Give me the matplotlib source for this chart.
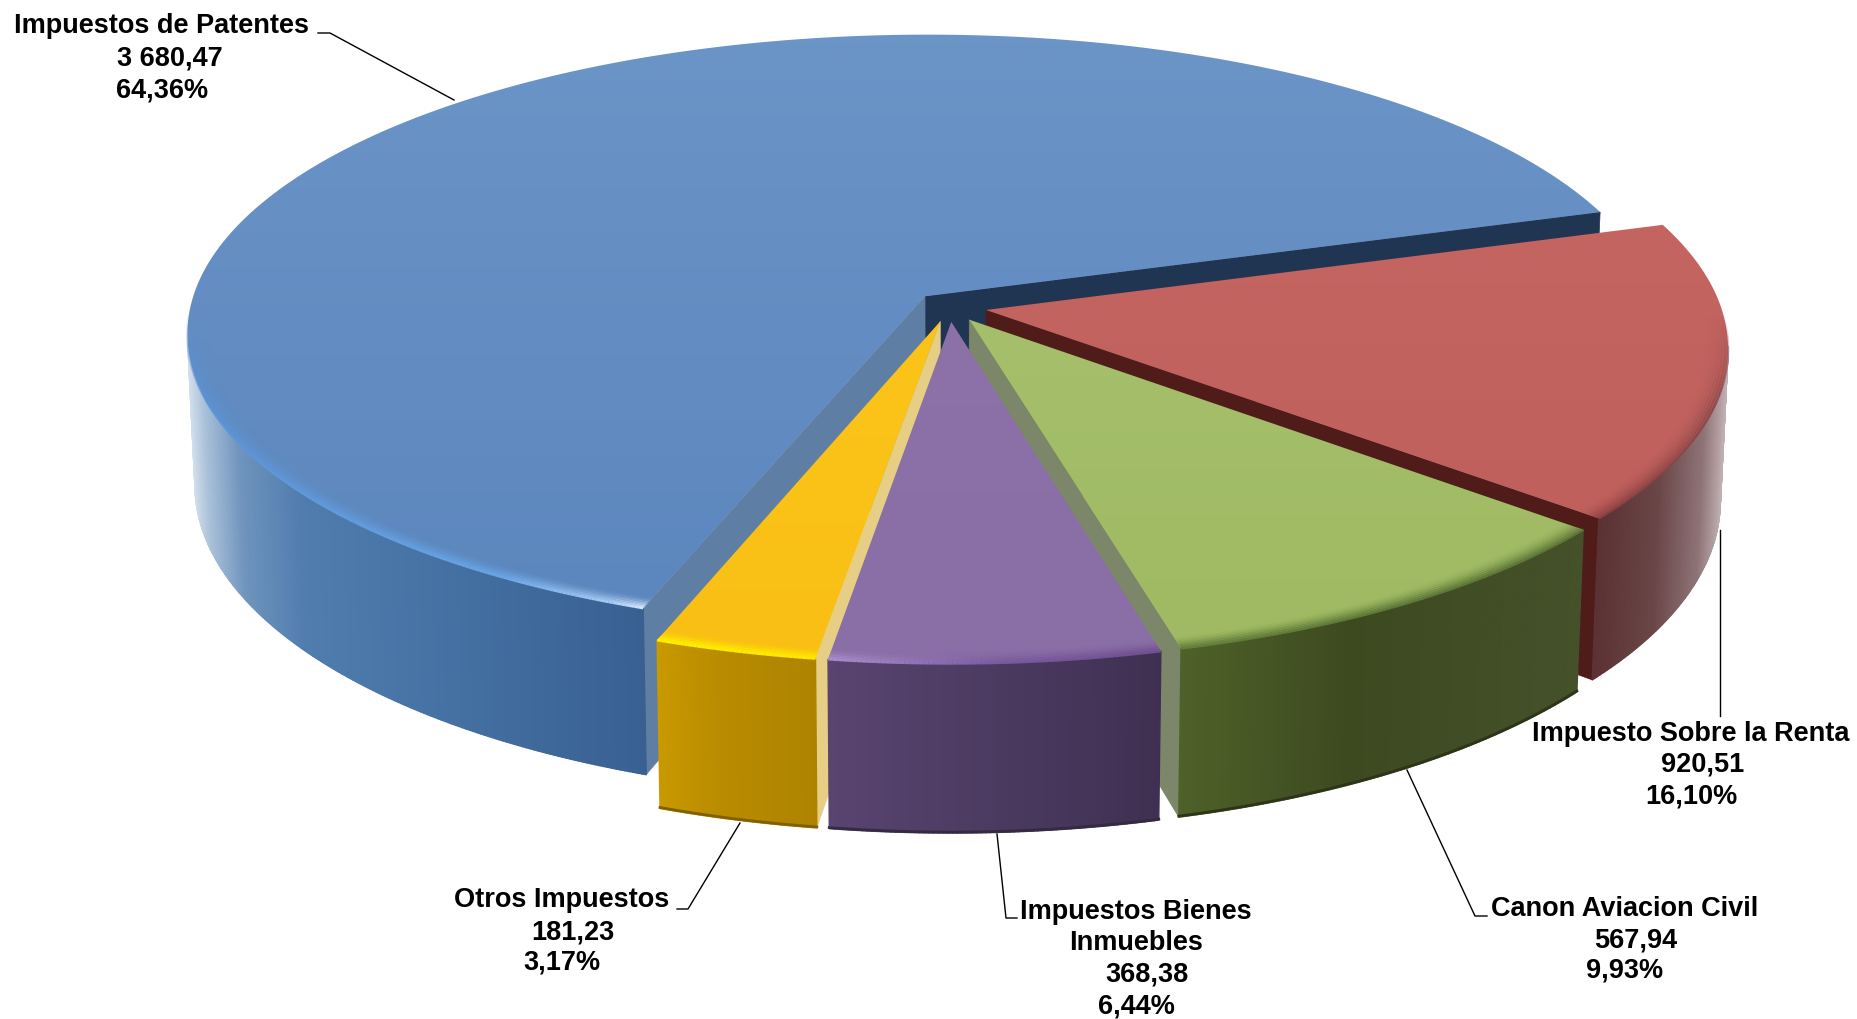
# -*- coding: utf-8 -*-
# Pastel 3D de impuestos, proyeccion en perspectiva hecha a mano
import numpy as np
import matplotlib
matplotlib.use('Agg')
import matplotlib.pyplot as plt
from matplotlib.collections import LineCollection, PolyCollection
from matplotlib.colors import to_rgb
from matplotlib.patches import Polygon

# datos
categorias = ['Impuestos de Patentes', 'Otros Impuestos', 'Impuestos Bienes Inmuebles',
              'Canon Aviacion Civil', 'Impuesto Sobre la Renta']
valores = [3680.47, 181.23, 368.38, 567.94, 920.51]

# geometria en pixeles de la imagen
W, H = 1858, 1019
ox, oy = 950, 307      # centro del pastel sin separar
A, B, P = 735, 296, 0.122
SEP = 0.05
START = 17.3
AJUSTE = 1.6           # pequena correccion angular de la perspectiva

def proy(r, th, sep_th):
    th = np.radians(th + AJUSTE*np.sin(np.radians(np.asarray(th) - START)/2)**2)
    u = r*np.cos(th) + SEP*np.cos(np.radians(sep_th))
    v = r*np.sin(th) + SEP*np.sin(np.radians(sep_th))
    w = 1 + P*v
    return ox + A*u/w, oy - B*v/w

def abajo(x, y):
    # cara inferior: algo mas estrecha, y mas profunda hacia el frente
    dy = y - oy
    return ox + (x - ox)*0.99, y + 150 + 0.055*dy

def mezcla(c1, c2, t):
    return tuple(np.array(to_rgb(c1))*(1 - t) + np.array(to_rgb(c2))*t)

def color_x(x, stops):
    xs = [s[0] for s in stops]
    rgb = np.array([to_rgb(s[1]) for s in stops])
    return tuple(np.interp(x, xs, rgb[:, i]) for i in range(3))

# estilos de cada porcion, en el mismo orden que categorias
tapa = [('#6b94c7', '#5c87be'), ('#fcc419', '#f9bf14'), ('#8c72a8', '#8a6ea6'),
        ('#a5bf6b', '#9fba62'), ('#c46562', '#c0605c')]
# solo se pintan las caras del corte que se ven
cara_ini = ['#1f3552', None, None, '#7c876a', '#4f1c1a']
cara_fin = ['#5f7ea3', '#e6cf85', None, None, None]
pared = [
    [(188, '#d5e0ec'), (205, '#a9c0d9'), (240, '#6f94bd'), (300, '#507dae'), (450, '#4470a3'), (655, '#385f90')],
    [(655, '#c99a00'), (720, '#b98b00'), (830, '#ad8200')],
    [(830, '#594470'), (1000, '#4b3a60'), (1165, '#3f3052')],
    [(1175, '#4f6229'), (1350, '#3d4a20'), (1590, '#45512a')],
    [(1585, '#582c2e'), (1660, '#6a4647'), (1705, '#8f7477'), (1730, '#c4b4b6')],
]
borde = [
    [(188, '#5b93d6'), (500, '#6aa5e6'), (610, '#a8cdf3'), (650, '#e4f0ff')],
    [(655, '#fff000'), (830, '#ffe800')],
    [(830, '#a98ccb'), (1000, '#7a5a9c'), (1165, '#6f4f90')],
    [(1175, '#64803a'), (1590, '#5c7636')],
    [(1585, '#8c3f3f'), (1730, '#8a4a4a')],
]
orden = [0, 4, 3, 1, 2]   # de atras hacia adelante

# etiquetas, cada linea con su centro
textos = [
    ('Impuestos de Patentes', 14, 26, 'left'), ('3 680,47', 170, 58, 'center'), ('64,36%', 162, 90, 'center'),
    ('Otros Impuestos', 562, 900, 'center'), ('181,23', 573, 932, 'center'), ('3,17%', 562, 962, 'center'),
    ('Impuestos Bienes', 1136, 912, 'center'), ('Inmuebles', 1136, 943, 'center'),
    ('368,38', 1147, 974, 'center'), ('6,44%', 1136, 1006, 'center'),
    ('Canon Aviacion Civil', 1625, 909, 'center'), ('567,94', 1636, 940, 'center'), ('9,93%', 1625, 971, 'center'),
    ('Impuesto Sobre la Renta', 1691, 734, 'center'), ('920,51', 1703, 765, 'center'), ('16,10%', 1691, 796, 'center'),
]
guias = [
    [(318, 33), (330, 33), (454, 100)],
    [(740, 823), (688, 909), (677, 909)],
    [(997, 834), (1006, 918), (1017, 918)],
    [(1407, 770), (1475, 916), (1487, 916)],
    [(1720, 530), (1720, 716)],
]

fig = plt.figure(figsize=(W/100, H/100), dpi=100, facecolor='white')
ax = fig.add_axes([0, 0, 1, 1])
ax.set_xlim(0, W)
ax.set_ylim(H, 0)
ax.axis('off')

total = sum(valores)
cortes = START + np.concatenate([[0], np.cumsum(valores)])/total*360

z = 1
for i in orden:
    t0, t1 = cortes[i], cortes[i + 1]
    medio = (t0 + t1)/2
    th = np.linspace(t0, t1, int((t1 - t0)*3) + 2)
    x, y = proy(1, th, medio)
    xb, yb = abajo(x, y)
    cx, cy = proy(0, START, medio)
    cxb, cyb = abajo(cx, cy)

    # caras del corte
    if cara_ini[i]:
        ax.add_patch(Polygon([(cx, cy), (x[0], y[0]), (xb[0], yb[0]), (cxb, cyb)],
                             fc=cara_ini[i], ec=cara_ini[i], lw=0.5, zorder=z))
    if cara_fin[i]:
        ax.add_patch(Polygon([(cx, cy), (x[-1], y[-1]), (xb[-1], yb[-1]), (cxb, cyb)],
                             fc=cara_fin[i], ec=cara_fin[i], lw=0.5, zorder=z))
    z += 1

    # pared exterior, solo la mitad de delante, tramo a tramo para el degradado
    frente = np.sin(np.radians(th)) < -P
    quads, cols = [], []
    for k in range(len(x) - 1):
        if frente[k] and frente[k+1]:
            quads.append([(x[k], y[k]), (x[k+1], y[k+1]), (xb[k+1], yb[k+1]), (xb[k], yb[k])])
            cols.append(color_x((x[k] + x[k+1])/2, pared[i]))
    ax.add_collection(PolyCollection(quads, facecolors=cols, edgecolors=cols, linewidths=1.0, zorder=z))
    z += 1
    if i != 0 and i != 4:
        ax.plot(xb[frente], yb[frente] - 1, color=mezcla(cols[len(cols)//2], 'black', 0.3), lw=2, zorder=z)

    # tapa con degradado vertical recortado
    rr = np.linspace(0, 1, 64)[:, None, None]
    grad = np.array(to_rgb(tapa[i][0]))[None, None, :]*(1 - rr) + np.array(to_rgb(tapa[i][1]))[None, None, :]*rr
    tx = np.concatenate([[cx], x])
    ty = np.concatenate([[cy], y])
    im = ax.imshow(grad, extent=[tx.min(), tx.max(), ty.max(), ty.min()], aspect='auto', zorder=z)
    clip = Polygon(np.column_stack([tx, ty]), transform=ax.transData, fc='none', ec='none')
    ax.add_patch(clip)
    im.set_clip_path(clip)
    z += 1

    # bisel del borde, se apaga hacia atras
    for r in np.linspace(0.968, 1.0, 9):
        xr, yr = proy(r, th, medio)
        peso = ((r - 0.968)/0.032)**2*np.clip((-0.02 - np.sin(np.radians(th)))/0.3, 0, 1)
        seg = [[(xr[k], yr[k]), (xr[k+1], yr[k+1])] for k in range(len(xr) - 1)]
        c = [color_x(xr[k], borde[i]) + (float(peso[k]),) for k in range(len(xr) - 1)]
        ax.add_collection(LineCollection(seg, colors=c, linewidths=1.8, capstyle='butt', zorder=z))
        z += 1

ax.set_xlim(0, W)
ax.set_ylim(H, 0)

# guias y textos
for g in guias:
    ax.plot([p[0] for p in g], [p[1] for p in g], color='black', lw=1.0, zorder=z)
for t, tx_, ty_, ha in textos:
    ax.text(tx_, ty_, t, ha=ha, va='center', fontsize=19.5, fontweight='bold',
            family='Liberation Sans', color='black', zorder=z + 1)

fig.savefig('out.png', dpi=100, facecolor='white')
